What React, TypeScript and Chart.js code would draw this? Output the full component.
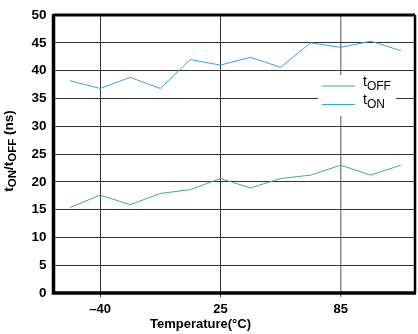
import React, { useEffect, useRef } from "react";
import { Chart, registerables } from "chart.js";

Chart.register(...registerables);

const categories = ["-55", "-40", "-25", "-10", "5", "25", "40", "55", "70", "85", "100", "125"];
const tOff = [15.4, 17.6, 15.9, 17.9, 18.6, 20.6, 18.9, 20.6, 21.2, 23.0, 21.2, 23.0];
const tOn = [38.2, 36.8, 38.8, 36.8, 42.0, 41.0, 42.4, 40.6, 45.0, 44.2, 45.3, 43.6];
const xTickIndex = [1, 5, 9];
const xTickLabels = ["\u201340", "25", "85"];
const yTicks = [0, 5, 10, 15, 20, 25, 30, 35, 40, 45, 50];

const GREEN = "#3db36c";
const BLUE = "#2fa8e0";
const FONT = "'Liberation Sans', Arial, sans-serif";

function drawSub(ctx: CanvasRenderingContext2D, x: number, y: number, parts: [string, boolean][], bold: boolean, size: number, subSize: number) {
  let cx = x;
  for (const [txt, sub] of parts) {
    ctx.font = `${bold ? "bold " : ""}${sub ? subSize : size}px ${FONT}`;
    ctx.fillText(txt, cx, sub ? y + size * 0.3 : y);
    cx += ctx.measureText(txt).width;
  }
  return cx - x;
}

function measureParts(ctx: CanvasRenderingContext2D, parts: [string, boolean][], bold: boolean, size: number, subSize: number) {
  let w = 0;
  for (const [txt, sub] of parts) {
    ctx.font = `${bold ? "bold " : ""}${sub ? subSize : size}px ${FONT}`;
    w += ctx.measureText(txt).width;
  }
  return w;
}

const decorPlugin = {
  id: "decor",
  afterDraw(chart: any) {
    const ctx: CanvasRenderingContext2D = chart.ctx;
    const a = chart.chartArea;
    ctx.save();
    // frame
    ctx.strokeStyle = "#000";
    ctx.lineWidth = 3;
    ctx.beginPath();
    ctx.moveTo(a.left, a.top);
    ctx.lineTo(a.right, a.top);
    ctx.stroke();
    ctx.lineWidth = 2.5;
    ctx.beginPath();
    ctx.moveTo(a.right, a.top);
    ctx.lineTo(a.right, a.bottom);
    ctx.stroke();
    ctx.lineWidth = 3.5;
    ctx.beginPath();
    ctx.moveTo(a.left, a.top - 1);
    ctx.lineTo(a.left, a.bottom);
    ctx.lineTo(a.right + 1, a.bottom);
    ctx.stroke();

    // legend
    const lx = 318, ly = 75, lw = 78, lh = 41;
    ctx.fillStyle = "#fff";
    ctx.fillRect(lx, ly, lw, lh);
    ctx.lineWidth = 1;
    ctx.strokeStyle = GREEN;
    ctx.beginPath();
    ctx.moveTo(322, 86);
    ctx.lineTo(355, 86);
    ctx.stroke();
    ctx.strokeStyle = BLUE;
    ctx.beginPath();
    ctx.moveTo(322, 104.5);
    ctx.lineTo(355, 104.5);
    ctx.stroke();
    ctx.fillStyle = "#000";
    ctx.textBaseline = "alphabetic";
    ctx.textAlign = "left";
    drawSub(ctx, 363, 86, [["t", false], ["OFF", true]], false, 14, 12);
    drawSub(ctx, 363, 104, [["t", false], ["ON", true]], false, 14, 12);

    // x title
    ctx.font = `bold 13px ${FONT}`;
    ctx.textAlign = "center";
    ctx.textBaseline = "middle";
    ctx.fillText("Temperature(\u00b0C)", 200.5, 324);

    // y title
    const parts: [string, boolean][] = [["t", false], ["ON", true], ["/t", false], ["OFF", true], [" (ns)", false]];
    ctx.translate(11, 151);
    ctx.rotate(-Math.PI / 2);
    ctx.textAlign = "left";
    ctx.textBaseline = "middle";
    const w = measureParts(ctx, parts, true, 13.5, 11.5);
    drawSub(ctx, -w / 2, -2, parts, true, 13.5, 11.5);
    ctx.restore();
  },
};

export default function App() {
  const ref = useRef<HTMLCanvasElement>(null);
  useEffect(() => {
    const canvas = ref.current!;
    const chart = new Chart(canvas, {
      type: "line",
      data: {
        datasets: [
          {
            label: "tOFF",
            data: tOff.map((v, i) => ({ x: i, y: v })),
            borderColor: GREEN,
            borderWidth: 1,
            pointRadius: 0,
            tension: 0,
          },
          {
            label: "tON",
            data: tOn.map((v, i) => ({ x: i, y: v })),
            borderColor: BLUE,
            borderWidth: 1,
            pointRadius: 0,
            tension: 0,
          },
        ],
      },
      options: {
        animation: false,
        responsive: false,
        maintainAspectRatio: false,
        layout: { padding: { left: 0, top: 5, right: 3, bottom: 0 } },
        plugins: { legend: { display: false }, tooltip: { enabled: false } },
        scales: {
          x: {
            type: "linear",
            min: -0.55,
            max: 11.47,
            afterBuildTicks: (scale: any) => {
              scale.ticks = xTickIndex.map((v) => ({ value: v }));
            },
            afterFit: (scale: any) => {
              scale.height = 41;
            },
            border: { display: false },
            grid: {
              color: (c: any) => (c.tick && c.tick.value === 9 ? "#8c8c8c" : "#333"),
              lineWidth: (c: any) => (c.tick && c.tick.value === 9 ? 1.5 : 1),
              tickLength: 4,
              drawTicks: true,
            },
            ticks: {
              autoSkip: false,
              maxRotation: 0,
              padding: 5,
              color: "#000",
              font: { family: FONT, size: 13, weight: "bold" },
              callback: (v: any) => {
                const i = xTickIndex.indexOf(v);
                return i >= 0 ? xTickLabels[i] : "";
              },
            },
          },
          y: {
            type: "linear",
            min: 0,
            max: 50,
            afterBuildTicks: (scale: any) => {
              scale.ticks = yTicks.map((v) => ({ value: v }));
            },
            afterFit: (scale: any) => {
              scale.width = 53.5;
            },
            border: { display: false },
            grid: { color: "#333", lineWidth: 1, drawTicks: false },
            ticks: {
              padding: 7,
              color: "#000",
              font: { family: FONT, size: 13.5, weight: "bold" },
            },
          },
        },
      },
      plugins: [decorPlugin],
    } as any);
    return () => chart.destroy();
  }, []);
  return (
    <div style={{ position: "absolute", left: 0, top: 0, width: 418, height: 334, background: "#fff" }}>
      <canvas ref={ref} width={418} height={334} style={{ display: "block", width: 418, height: 334 }} />
    </div>
  );
}
